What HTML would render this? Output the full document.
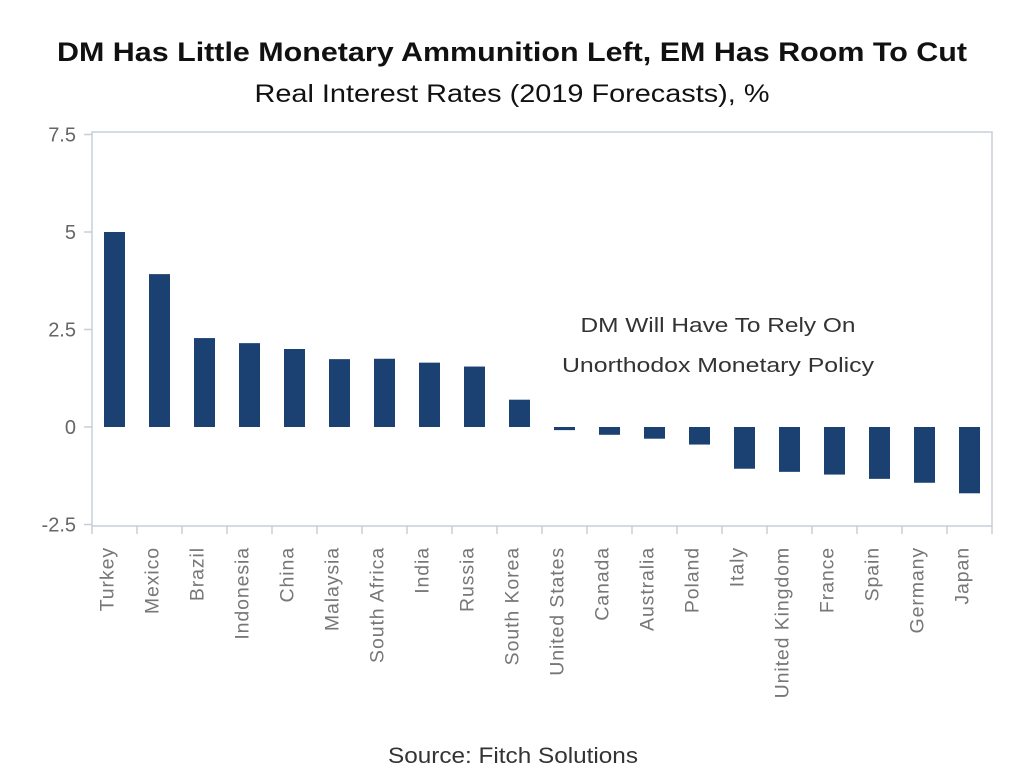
<!DOCTYPE html>
<html><head><meta charset="utf-8"><style>
body{margin:0;background:#fff;width:1024px;height:783px;overflow:hidden}
svg{display:block}
</style></head><body>
<svg id="chart" width="1024" height="783" xmlns="http://www.w3.org/2000/svg" font-family="Liberation Sans, sans-serif">
<text x="512" y="61" text-anchor="middle" font-size="27" font-weight="bold" fill="#111" textLength="910" lengthAdjust="spacingAndGlyphs">DM Has Little Monetary Ammunition Left, EM Has Room To Cut</text>
<text x="512" y="102" text-anchor="middle" font-size="25" fill="#111" textLength="515" lengthAdjust="spacingAndGlyphs">Real Interest Rates (2019 Forecasts), %</text>
<rect x="92" y="132" width="900" height="394" fill="none" stroke="#c8cdd8" stroke-width="1.5"/>
<g id="yaxis"></g>
<g id="bars"></g>
<g id="xaxis"></g>
<text x="718" y="332" text-anchor="middle" font-size="20" fill="#333" textLength="275" lengthAdjust="spacingAndGlyphs">DM Will Have To Rely On</text>
<text x="718" y="372" text-anchor="middle" font-size="20" fill="#333" textLength="312" lengthAdjust="spacingAndGlyphs">Unorthodox Monetary Policy</text>
<text x="513" y="763" text-anchor="middle" font-size="22" fill="#333" textLength="250" lengthAdjust="spacingAndGlyphs">Source: Fitch Solutions</text>
</svg>
<script>
const categories=["Turkey","Mexico","Brazil","Indonesia","China","Malaysia","South Africa","India","Russia","South Korea","United States","Canada","Australia","Poland","Italy","United Kingdom","France","Spain","Germany","Japan"];
const values=[5.0,3.92,2.28,2.15,2.0,1.74,1.75,1.65,1.55,0.7,-0.08,-0.2,-0.3,-0.45,-1.07,-1.15,-1.22,-1.33,-1.43,-1.7];
const yTicks=[7.5,5,2.5,0,-2.5];
const yTickLabels=["7.5","5","2.5","0","-2.5"];
const NS="http://www.w3.org/2000/svg";
const L=92,R=992;
const N=categories.length;
const band=(R-L)/N;
function xs(i){return L+band*i;}
function ys(v){return 427-v*39;}
function mk(t,a,p){const e=document.createElementNS(NS,t);for(const k in a)e.setAttribute(k,a[k]);p.appendChild(e);return e;}
const ya=document.getElementById('yaxis'),ba=document.getElementById('bars'),xa=document.getElementById('xaxis');
yTicks.forEach((t,i)=>{
 const ln=mk('line',{x1:84,x2:92,y1:ys(t),y2:ys(t),stroke:'#c8cdd8','stroke-width':1.5},ya);
 
 
 const tx=mk('text',{x:76,y:ys(t)+7,'text-anchor':'end','font-size':20,fill:'#666'},ya);
 tx.textContent=yTickLabels[i];
 
 
});
categories.forEach((c,i)=>{
 const v=values[i];
 const cx=xs(i)+band/2;
 const r=mk('rect',{x:cx-10.5,y:Math.min(ys(v),ys(0)),width:21,height:Math.abs(ys(v)-ys(0)),fill:'#1b4173'},ba);
 
 
 const tk=mk('line',{x1:xs(i),x2:xs(i),y1:526,y2:534,stroke:'#c8cdd8','stroke-width':1.5},xa);
 
 
 const tx=mk('text',{transform:`translate(${cx-1},547) rotate(-90)`,'text-anchor':'end','font-size':19.5,fill:'#777','letter-spacing':'0.9'},xa);
 tx.textContent=c;
 
 
});
const tk=mk('line',{x1:R,x2:R,y1:526,y2:534,stroke:'#c8cdd8','stroke-width':1.5},xa);


</script>
</body></html>
